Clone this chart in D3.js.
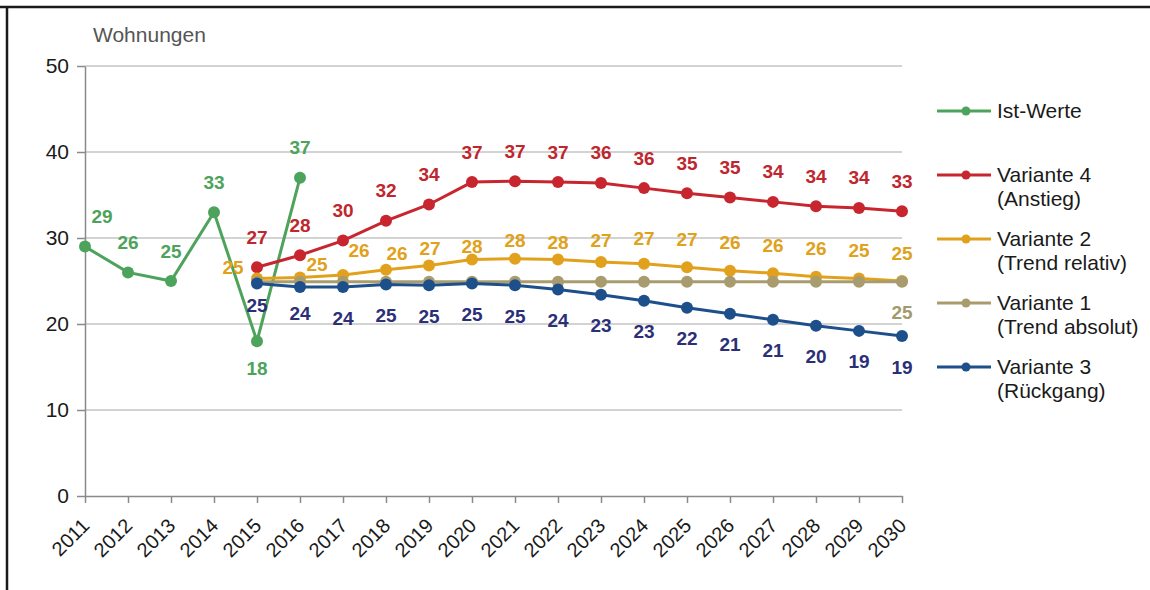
<!DOCTYPE html>
<html>
<head>
<meta charset="utf-8">
<script src="https://cdn.jsdelivr.net/npm/d3@7"></script>
<style>
  body { margin: 0; background: #fff; }
  svg { display: block; font-family: Arial, "Liberation Sans", sans-serif; }
  .grid line { stroke: #c4c4c4; stroke-width: 1.5; }
  .axis path, .axis line { stroke: #8a8a8a; stroke-width: 1.5; }
  .axis text { fill: #1a1a1a; }
</style>
</head>
<body>
<svg class="chart" width="1150" height="590"></svg>
<script>
// categories
const years = [2011, 2012, 2013, 2014, 2015, 2016, 2017, 2018, 2019, 2020,
  2021, 2022, 2023, 2024, 2025, 2026, 2027, 2028, 2029, 2030];
const istYears = [2011, 2012, 2013, 2014, 2015, 2016];
const projYears = [2015, 2016, 2017, 2018, 2019, 2020, 2021, 2022,
  2023, 2024, 2025, 2026, 2027, 2028, 2029, 2030];

// series values
const istWerte = [29, 26, 25, 33, 18, 37];
const variante4 = [26.6, 28.0, 29.7, 32.0, 33.9, 36.5, 36.6, 36.5, 36.4, 35.8, 35.2, 34.7, 34.2, 33.7, 33.5, 33.1];
const variante2 = [25.3, 25.4, 25.7, 26.3, 26.8, 27.5, 27.6, 27.5, 27.2, 27.0, 26.6, 26.2, 25.9, 25.5, 25.3, 25.0];
const variante1 = [24.9, 24.9, 24.9, 24.9, 24.9, 24.9, 24.9, 24.9, 24.9, 24.9, 24.9, 24.9, 24.9, 24.9, 24.9, 24.9];
const variante3 = [24.7, 24.3, 24.3, 24.6, 24.5, 24.7, 24.5, 24.0, 23.4, 22.7, 21.9, 21.2, 20.5, 19.8, 19.2, 18.6];

// tick labels
const yTicks = [0, 10, 20, 30, 40, 50];
const legendNames = [['Ist-Werte'], ['Variante 4', '(Anstieg)'], ['Variante 2', '(Trend relativ)'],
  ['Variante 1', '(Trend absolut)'], ['Variante 3', '(Rückgang)']];

// drawing order = legend order
const series = [
  { years: istYears, values: istWerte, color: '#4ea35c', labelColor: '#4ea35c', dy: -30,
    nudge: { 2011: [17, 0], 2015: [0, 57] } },
  { years: projYears, values: variante4, color: '#c8262f', labelColor: '#c0262d', dy: -30, nudge: {} },
  { years: projYears, values: variante2, color: '#e2a11d', labelColor: '#e0a11b', dy: -28,
    nudge: { 2015: [-24, 17], 2016: [17, 15], 2017: [16, 4], 2018: [11, 12], 2019: [1, 11],
      2020: [0, 15], 2021: [0, 10], 2022: [0, 11], 2023: [0, 6], 2024: [0, 3] } },
  { years: projYears, values: variante1, color: '#a89c6e', labelColor: '#a39a6c', dy: 31,
    only: [2030], nudge: {} },
  { years: projYears, values: variante3, color: '#1d4f8a', labelColor: '#2b2f78', dy: 31,
    nudge: { 2015: [0, -9], 2016: [0, -5] } },
];

const startApp = () => {
  const svg = d3.select('.chart');
  const x = d3.scalePoint().domain(years).range([85, 902]);
  const y = d3.scaleLinear().domain([0, 50]).range([496, 66]);

  // frame (top and left edges only)
  svg.append('line')
    .attr('x1', 0).attr('x2', 1150).attr('y1', 7).attr('y2', 7)
    .attr('stroke', '#1a1a1a').attr('stroke-width', 2.5);
  svg.append('line')
    .attr('x1', 7).attr('x2', 7).attr('y1', 6).attr('y2', 590)
    .attr('stroke', '#1a1a1a').attr('stroke-width', 2.5);

  svg.append('g')
    .attr('class', 'grid')
    .selectAll('line')
    .data(yTicks.filter(d => d > 0))
    .enter()
    .append('line')
    .attr('x1', 85).attr('x2', 902)
    .attr('y1', d => y(d)).attr('y2', d => y(d));

  const yAxis = svg.append('g')
    .attr('class', 'axis')
    .attr('transform', 'translate(85,0)')
    .call(d3.axisLeft(y).tickValues(yTicks).tickSize(8).tickPadding(8).tickSizeOuter(0));
  yAxis.selectAll('text').style('font-size', '21px');

  const xAxis = svg.append('g')
    .attr('class', 'axis')
    .attr('transform', 'translate(0,496)')
    .call(d3.axisBottom(x).tickSize(7).tickSizeOuter(0));
  xAxis.selectAll('text')
    .style('font-size', '20px')
    .attr('text-anchor', 'end')
    .attr('y', 0).attr('dy', 0)
    .attr('transform', 'translate(5,31) rotate(-45)');

  svg.append('text')
    .attr('x', 93).attr('y', 42)
    .attr('fill', '#555')
    .style('font-size', '21px')
    .text('Wohnungen');

  const line = d3.line().x(d => x(d.year)).y(d => y(d.value));

  series.forEach((s) => {
    const pts = s.years.map((yr, i) => ({ year: yr, value: s.values[i] }));
    const g = svg.append('g');
    g.append('path')
      .datum(pts)
      .attr('d', line)
      .attr('fill', 'none')
      .attr('stroke', s.color)
      .attr('stroke-width', 3);
    g.selectAll('circle')
      .data(pts)
      .enter()
      .append('circle')
      .attr('cx', d => x(d.year))
      .attr('cy', d => y(d.value))
      .attr('r', 6)
      .attr('fill', s.color);
  });

  // data labels on top of all lines
  series.forEach((s) => {
    const pts = s.years.map((yr, i) => ({ year: yr, value: s.values[i] }))
      .filter(d => !s.only || s.only.includes(d.year));
    svg.append('g')
      .selectAll('text')
      .data(pts)
      .enter()
      .append('text')
      .attr('x', d => x(d.year) + (s.nudge[d.year] ? s.nudge[d.year][0] : 0))
      .attr('y', d => y(d.value) + s.dy + (s.nudge[d.year] ? s.nudge[d.year][1] : 0))
      .attr('text-anchor', 'middle')
      .attr('dominant-baseline', 'central')
      .attr('fill', s.labelColor)
      .style('font-size', '19px')
      .style('font-weight', 'bold')
      .text(d => Math.round(d.value));
  });

  // legend
  const legend = svg.append('g').attr('transform', 'translate(937,0)');
  series.forEach((s, i) => {
    const ly = 111 + i * 64;
    const item = legend.append('g').attr('transform', `translate(0,${ly})`);
    item.append('line')
      .attr('x1', 0).attr('x2', 54)
      .attr('stroke', s.color).attr('stroke-width', 3);
    item.append('circle').attr('cx', 29).attr('r', 4.5).attr('fill', s.color);
    item.selectAll('text')
      .data(legendNames[i])
      .enter()
      .append('text')
      .attr('x', 60)
      .attr('y', (d, j) => 7 + j * 24)
      .attr('fill', '#1a1a1a')
      .style('font-size', '21px')
      .text(d => d);
  });
};

window.onload = startApp;
</script>
</body>
</html>
